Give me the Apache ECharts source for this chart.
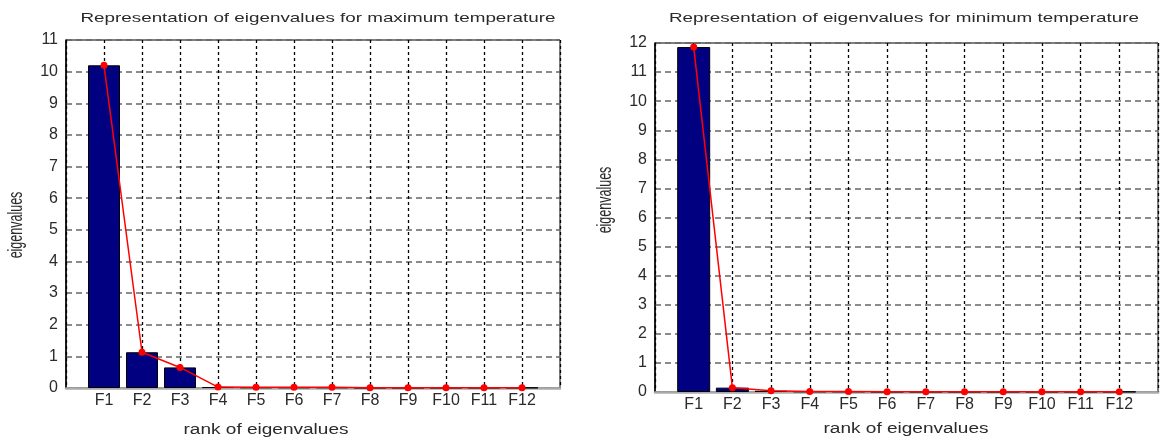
<!DOCTYPE html>
<html>
<head>
<meta charset="utf-8">
<script src="https://cdn.jsdelivr.net/npm/echarts@6/dist/echarts.min.js"></script>
<style>
  html, body { margin: 0; padding: 0; background: #fff; }
  #chart { width: 1161px; height: 439px; }
</style>
</head>
<body>
<div id="chart"></div>
<script>
// ranks of eigenvalues
const categories = ['F1', 'F2', 'F3', 'F4', 'F5', 'F6', 'F7', 'F8', 'F9', 'F10', 'F11', 'F12']
// eigenvalues, maximum temperature
const maxTempValues = [10.2, 1.13, 0.65, 0.03, 0.02, 0.02, 0.02, 0.01, 0.01, 0.01, 0.01, 0.01]
// eigenvalues, minimum temperature
const minTempValues = [11.86, 0.15, 0.04, 0.02, 0.02, 0.01, 0.01, 0.01, 0.01, 0.01, 0.01, 0.01]
// y ticks: min, max, step
const maxTempTicks = [0, 11, 1]
const minTempTicks = [0, 12, 1]

const titleMax = 'Representation of eigenvalues for maximum temperature'
const titleMin = 'Representation of eigenvalues for minimum temperature'
const xName = 'rank of eigenvalues'
const yName = 'eigenvalues'

const FONT = '"Liberation Sans", Arial, sans-serif'
const TXT = '#2a2a2a'

// the source picture is stretched horizontally, so the texts are too
const measure = document.createElement('canvas').getContext('2d')
const stretch = (text, size, target) => {
  measure.font = size + 'px ' + FONT
  return target / measure.measureText(text).width
}

const toPoints = (vals) => vals.map((v, i) => [i + 1, v])

const makeX = (gridIndex) => ({
  type: 'value',
  gridIndex,
  min: 0,
  max: categories.length + 1,
  interval: 1,
  axisLine: { show: true, onZero: false, lineStyle: { color: '#aaa', width: 2.5 } },
  axisTick: { show: false },
  axisLabel: {
    margin: 5,
    fontSize: 16,
    fontFamily: FONT,
    color: TXT,
    formatter: (v) => (v >= 1 && v <= categories.length ? categories[v - 1] : '')
  },
  splitLine: { show: true, lineStyle: { color: '#000', type: [3, 3], width: 1.3 } }
})

const makeY = (gridIndex, ticks) => ({
  type: 'value',
  gridIndex,
  min: ticks[0],
  max: ticks[1],
  interval: ticks[2],
  axisLine: { show: true, lineStyle: { color: '#000', width: 1.5 } },
  axisTick: { show: false },
  axisLabel: { margin: 8, fontSize: 16, fontFamily: FONT, color: TXT },
  splitLine: { show: true, lineStyle: { color: '#666', type: [6, 4], width: 1.5 } }
})

const makeBar = (idx, vals, w) => ({
  type: 'bar',
  xAxisIndex: idx,
  yAxisIndex: idx,
  data: toPoints(vals),
  barWidth: w,
  itemStyle: { color: '#000080', borderColor: '#000', borderWidth: 1 },
  z: 2
})

const makeLine = (idx, vals) => ({
  type: 'line',
  xAxisIndex: idx,
  yAxisIndex: idx,
  data: toPoints(vals),
  symbol: 'circle',
  symbolSize: 7,
  lineStyle: { color: '#ff0000', width: 1.5 },
  itemStyle: { color: '#ff0000' },
  z: 3
})

const textEl = (text, x, y, size, target, rotate) => {
  const s = rotate ? 1 : stretch(text, size, target)
  return {
    type: 'text',
    x,
    y,
    rotation: rotate ? Math.PI / 2 : 0,
    scaleX: s,
    scaleY: rotate ? 1.55 : 1,
    style: {
      text,
      fontSize: size,
      fontFamily: FONT,
      fill: TXT,
      align: 'center',
      verticalAlign: 'middle'
    }
  }
}

const chart = echarts.init(document.getElementById('chart'))

chart.setOption({
  animation: false,
  backgroundColor: '#fff',
  grid: [
    { left: 66, top: 40, width: 494, height: 348, show: true, borderColor: '#000', borderWidth: 1, backgroundColor: '#fff' },
    { left: 655, top: 43, width: 512, height: 349, show: true, borderColor: '#000', borderWidth: 1, backgroundColor: '#fff' }
  ],
  xAxis: [makeX(0), makeX(1)],
  yAxis: [makeY(0, maxTempTicks), makeY(1, minTempTicks)],
  series: [
    makeBar(0, maxTempValues, 32),
    makeLine(0, maxTempValues),
    makeBar(1, minTempValues, 33),
    makeLine(1, minTempValues)
  ],
  graphic: [
    textEl(titleMax, 318, 18, 13, 475),
    textEl(titleMin, 904, 18, 13, 470),
    textEl(xName, 266, 430, 14, 165),
    textEl(xName, 906, 429, 14, 165),
    textEl(yName, 17, 225, 12.5, 0, true),
    textEl(yName, 606, 200, 12.5, 0, true)
  ]
})
</script>
</body>
</html>
